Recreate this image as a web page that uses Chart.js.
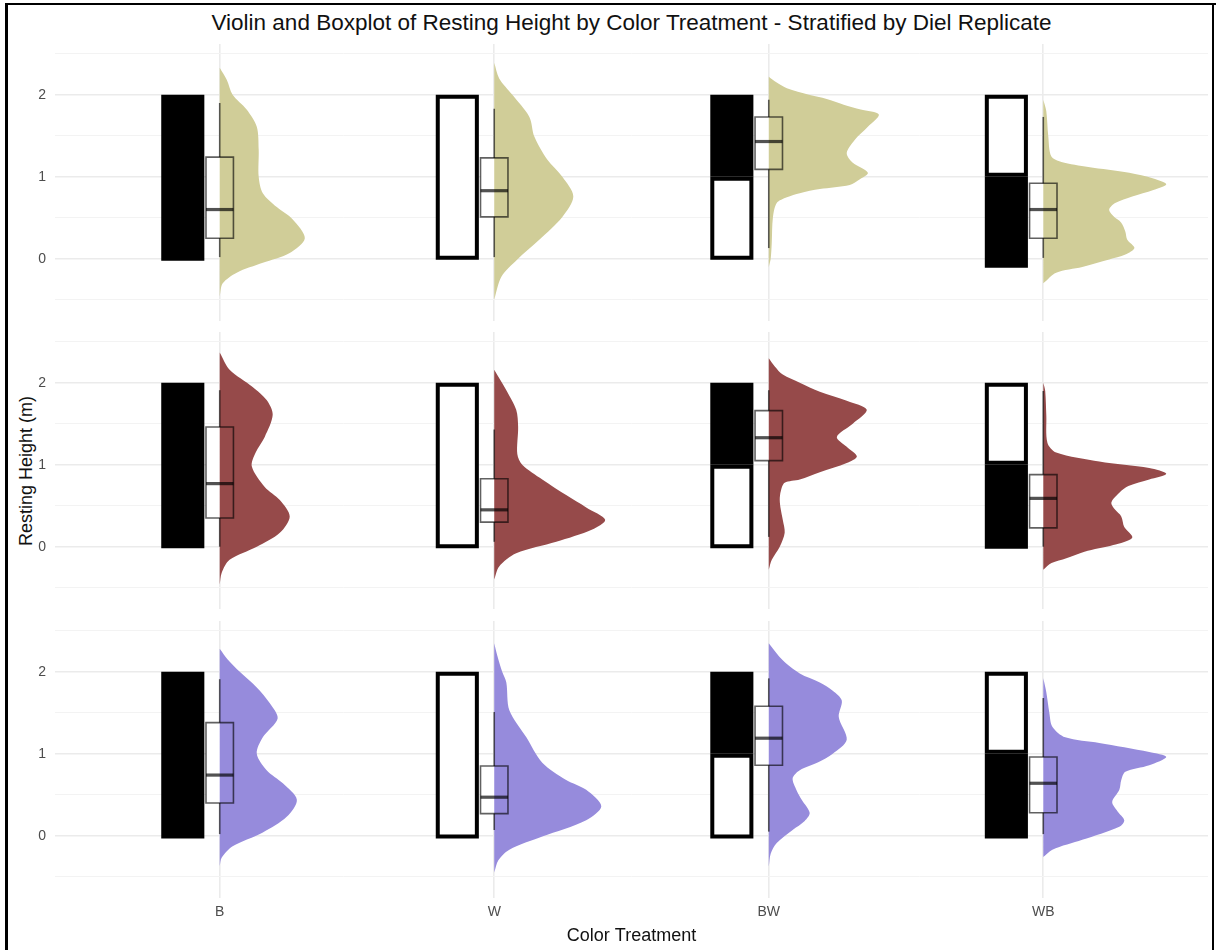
<!DOCTYPE html>
<html>
<head>
<meta charset="utf-8">
<script src="https://cdn.jsdelivr.net/npm/chart.js@4.4.1/dist/chart.umd.min.js"></script>
<style>
  html, body { margin: 0; padding: 0; background: #fff; }
  body { width: 1216px; height: 950px; position: relative; overflow: hidden;
         font-family: "Liberation Sans", Arial, sans-serif; }
  canvas { position: absolute; left: 0; }
  #title { position: absolute; left: 55px; width: 1153px; top: 9px; line-height: 28px;
           text-align: center; font-size: 22.5px; color: #111; white-space: nowrap; }
  #ylab { position: absolute; left: 26px; top: 471px; font-size: 18px; color: #111;
          white-space: nowrap; transform: translate(-50%, -50%) rotate(-90deg); }
  .edge { position: absolute; background: #000; }
</style>
</head>
<body>
<div class="edge" style="left:5px;top:3px;width:3px;height:947px"></div>
<div class="edge" style="left:5px;top:3px;width:1211px;height:2px"></div>
<div class="edge" style="left:1212px;top:3px;width:2px;height:947px"></div>
<div id="title">Violin and Boxplot of Resting Height by Color Treatment - Stratified by Diel Replicate</div>
<div id="ylab">Resting Height (m)</div>
<canvas id="rep1" width="1216" height="277" style="top:44px"></canvas>
<canvas id="rep2" width="1216" height="277" style="top:332px"></canvas>
<canvas id="rep3" width="1216" height="329" style="top:621px"></canvas>
<script>
// ---- data -------------------------------------------------------------
const categories = ['B', 'W', 'BW', 'WB'];
const yTicks = [-0.5, 0, 0.5, 1, 1.5, 2, 2.5];

// Tank wall colouring of each treatment: lower half / upper half
const wallLower = ['black', 'white', 'white', 'black'];
const wallUpper = ['black', 'white', 'black', 'white'];
const wallMid = 1;   // m
const wallTop = 2;   // m
// lower edge of the wall block, per replicate and treatment (m)
const wallBase1 = [-0.025, -0.012, -0.012, -0.11];
const wallBase2 = [-0.02, -0.02, -0.02, -0.025];
const wallBase3 = [-0.033, -0.033, -0.033, -0.033];

// Box statistics [lower whisker, Q1, median, Q3, upper whisker] per treatment
const box1 = [[0.02, 0.25, 0.60, 1.24, 1.90], [0.02, 0.51, 0.83, 1.23, 1.83],
              [0.13, 1.09, 1.43, 1.73, 1.94], [0.01, 0.25, 0.60, 0.92, 1.73]];
const box2 = [[0.00, 0.35, 0.77, 1.46, 1.91], [0.06, 0.30, 0.45, 0.83, 1.43],
              [0.12, 1.05, 1.33, 1.66, 1.91], [0.00, 0.23, 0.59, 0.88, 1.90]];
const box3 = [[0.02, 0.40, 0.74, 1.38, 1.91], [0.07, 0.27, 0.47, 0.85, 1.51],
              [0.05, 0.86, 1.19, 1.58, 1.92], [0.02, 0.28, 0.64, 0.96, 1.68]];

// Half-violin density outlines: [resting height (m), half-width in category units]
const v1B = [[2.33,0],[2.18,0.026],[2.0,0.047],[1.82,0.098],[1.61,0.135],[1.33,0.142],[1.0,0.142],[0.8,0.157],[0.63,0.208],[0.48,0.266],[0.25,0.31],[0.07,0.255],[-0.05,0.157],[-0.17,0.062],[-0.3,0.011],[-0.46,0]];
const v1W = [[2.39,0],[2.2,0.018],[2.0,0.066],[1.73,0.128],[1.49,0.146],[1.21,0.193],[1.0,0.248],[0.76,0.288],[0.51,0.248],[0.23,0.164],[-0.01,0.084],[-0.22,0.026],[-0.5,0]];
const v1BW = [[2.22,0],[2.15,0.029],[2.08,0.066],[2.0,0.146],[1.95,0.211],[1.88,0.273],[1.82,0.335],[1.76,0.401],[1.61,0.361],[1.45,0.313],[1.29,0.284],[1.17,0.306],[1.05,0.361],[0.97,0.332],[0.9,0.295],[0.85,0.186],[0.8,0.113],[0.75,0.066],[0.68,0.029],[0.5,0.015],[0.2,0.011],[0.0,0.007],[-0.1,0]];
const v1WB = [[1.94,0],[1.8,0.011],[1.5,0.018],[1.25,0.029],[1.18,0.066],[1.12,0.164],[1.05,0.313],[0.98,0.401],[0.91,0.448],[0.84,0.401],[0.76,0.324],[0.68,0.262],[0.6,0.24],[0.52,0.255],[0.44,0.284],[0.33,0.299],[0.23,0.306],[0.13,0.332],[0.05,0.299],[-0.01,0.24],[-0.1,0.142],[-0.17,0.047],[-0.3,0]];

const v2B = [[2.37,0],[2.16,0.036],[1.95,0.12],[1.79,0.171],[1.61,0.193],[1.34,0.164],[1.15,0.131],[0.98,0.117],[0.73,0.164],[0.57,0.219],[0.37,0.255],[0.17,0.219],[0,0.135],[-0.16,0.036],[-0.32,0.007],[-0.46,0]];
const v2W = [[2.16,0],[1.91,0.044],[1.67,0.08],[1.46,0.087],[1.13,0.084],[1.0,0.102],[0.82,0.175],[0.63,0.262],[0.48,0.335],[0.33,0.404],[0.21,0.357],[0.06,0.226],[-0.08,0.08],[-0.24,0.018],[-0.4,0]];
const v2BW = [[2.3,0],[2.2,0.022],[2.1,0.051],[2.0,0.113],[1.89,0.186],[1.78,0.284],[1.67,0.357],[1.5,0.306],[1.34,0.248],[1.22,0.284],[1.1,0.321],[1.02,0.284],[0.91,0.186],[0.82,0.113],[0.78,0.058],[0.68,0.044],[0.57,0.04],[0.45,0.044],[0.33,0.051],[0.17,0.058],[0,0.04],[-0.16,0.011],[-0.28,0]];
const v2WB = [[2.0,0],[1.9,0.007],[1.6,0.011],[1.27,0.015],[1.15,0.047],[1.04,0.204],[0.96,0.386],[0.89,0.448],[0.82,0.386],[0.74,0.31],[0.66,0.277],[0.54,0.248],[0.45,0.262],[0.37,0.284],[0.24,0.295],[0.11,0.324],[0.02,0.255],[-0.06,0.15],[-0.14,0.084],[-0.2,0.03],[-0.28,0]];

const v3B = [[2.28,0],[2.15,0.029],[2.0,0.073],[1.81,0.135],[1.62,0.182],[1.43,0.211],[1.2,0.157],[1.0,0.135],[0.8,0.171],[0.64,0.23],[0.44,0.281],[0.23,0.244],[0.04,0.157],[-0.13,0.047],[-0.27,0.007],[-0.37,0]];
const v3W = [[2.35,0],[2.2,0.011],[2.0,0.029],[1.87,0.044],[1.53,0.055],[1.2,0.117],[0.89,0.175],[0.68,0.262],[0.56,0.335],[0.36,0.39],[0.19,0.335],[-0.01,0.175],[-0.17,0.055],[-0.3,0.015],[-0.45,0]];
const v3BW = [[2.35,0],[2.14,0.051],[1.98,0.113],[1.87,0.186],[1.77,0.233],[1.65,0.266],[1.45,0.255],[1.17,0.284],[1.0,0.233],[0.9,0.182],[0.8,0.113],[0.7,0.087],[0.55,0.102],[0.44,0.12],[0.28,0.149],[0.18,0.131],[0.07,0.087],[-0.09,0.029],[-0.22,0.007],[-0.38,0]];
const v3WB = [[1.92,0],[1.75,0.011],[1.5,0.022],[1.33,0.033],[1.2,0.08],[1.13,0.204],[1.02,0.386],[0.96,0.448],[0.86,0.386],[0.78,0.299],[0.68,0.284],[0.56,0.277],[0.41,0.251],[0.3,0.27],[0.19,0.295],[0.11,0.277],[-0.05,0.142],[-0.17,0.033],[-0.26,0]];

const violinColors = ['rgb(208,205,152)', 'rgb(150,74,74)', 'rgb(150,139,220)'];

// ---- geometry / styling ----------------------------------------------
const WALL_X0 = -0.213, WALL_X1 = -0.056;   // wall block offset from category centre
const OUT_DX = 0.0073, OUT_DY = 0.0244;     // half of the 4px outline in data units
const BOX_HALF = 0.05;
const LINE_CLR = 'rgba(0,0,0,0.62)';
const NONE = 'rgba(0,0,0,0)';

Chart.defaults.font.family = '"Liberation Sans", Arial, sans-serif';

function rect(x0, x1, y0, y1) {
  return [{x: x0, y: y0}, {x: x1, y: y0}, {x: x1, y: y1}, {x: x0, y: y1}, {x: x0, y: y0}];
}

function addWall(ds, c, y0, y1, colour) {
  const x0 = c + WALL_X0, x1 = c + WALL_X1;
  if (colour === 'black') {
    ds.push({ data: rect(x0, x1, y0, y1), fill: 'shape', backgroundColor: '#000',
              borderColor: NONE, borderWidth: 0, tension: 0, order: 50 });
  } else {
    ds.push({ data: rect(x0 + OUT_DX, x1 - OUT_DX, y0 + OUT_DY, y1 - OUT_DY), fill: 'shape',
              backgroundColor: '#fff', borderColor: '#000', borderWidth: 4,
              borderJoinStyle: 'miter', borderCapStyle: 'square', tension: 0, order: 50 });
  }
}

function panelDatasets(violins, boxes, bases, colour) {
  const ds = [];
  categories.forEach((cat, i) => {
    const c = i + 1;
    // wall treatment block
    if (wallLower[i] === wallUpper[i]) {
      addWall(ds, c, bases[i], wallTop, wallLower[i]);
    } else {
      addWall(ds, c, bases[i], wallMid, wallLower[i]);
      addWall(ds, c, wallMid, wallTop, wallUpper[i]);
    }
    const [lo, q1, med, q3, hi] = boxes[i];
    // box body (white, sits under the violin)
    ds.push({ data: rect(c - BOX_HALF, c + BOX_HALF, q1, q3), fill: 'shape', backgroundColor: '#fff',
              borderColor: NONE, borderWidth: 0, tension: 0, order: 40 });
    // half violin
    ds.push({ data: violins[i].map(([h, w]) => ({x: c + w, y: h})), fill: 'shape',
              backgroundColor: colour, borderColor: NONE, borderWidth: 0, tension: 0.3, order: 30 });
    // box outline, median and whiskers
    ds.push({ data: rect(c - BOX_HALF, c + BOX_HALF, q1, q3), fill: false, borderColor: LINE_CLR,
              borderWidth: 1.6, borderJoinStyle: 'miter', borderCapStyle: 'square', tension: 0, order: 20 });
    ds.push({ data: [{x: c - BOX_HALF, y: med}, {x: c + BOX_HALF, y: med}], fill: false,
              borderColor: 'rgba(0,0,0,0.68)', borderWidth: 3.2, tension: 0, order: 19 });
    ds.push({ data: [{x: c, y: lo}, {x: c, y: q1}], fill: false, borderColor: LINE_CLR,
              borderWidth: 1.6, tension: 0, order: 19 });
    ds.push({ data: [{x: c, y: q3}, {x: c, y: hi}], fill: false, borderColor: LINE_CLR,
              borderWidth: 1.6, tension: 0, order: 19 });
  });
  return ds;
}

function makePanel(id, datasets, showX) {
  return new Chart(document.getElementById(id), {
    type: 'line',
    data: { datasets },
    options: {
      responsive: false, animation: false, devicePixelRatio: 1, events: [],
      layout: { autoPadding: false, padding: { left: 0, right: 8, top: 0, bottom: 0 } },
      plugins: { legend: { display: false }, tooltip: { enabled: false }, title: { display: false } },
      elements: { point: { radius: 0 } },
      scales: {
        x: {
          type: 'linear', min: 0.4, max: 4.6,
          afterBuildTicks: s => { s.ticks = [1, 2, 3, 4].map(v => ({ value: v })); },
          grid: { color: '#EBEBEB', lineWidth: 1.6, drawTicks: false },
          border: { display: false },
          ticks: { display: showX, padding: 6, color: '#4D4D4D', font: { size: 14 },
                   callback: v => categories[v - 1] },
          title: { display: showX, text: 'Color Treatment', color: '#111', font: { size: 18 },
                   padding: { top: 0, bottom: 3 } },
          afterFit: s => { s.height = showX ? 52 : 0; s.paddingLeft = 0; s.paddingRight = 0; }
        },
        y: {
          type: 'linear', min: -0.76, max: 2.62,
          afterBuildTicks: s => { s.ticks = yTicks.map(v => ({ value: v })); },
          grid: {
            color: c => Number.isInteger(c.tick.value) ? '#EBEBEB' : '#F3F3F3',
            lineWidth: c => Number.isInteger(c.tick.value) ? 1.6 : 1,
            drawTicks: false
          },
          border: { display: false },
          ticks: { padding: 9, color: '#4D4D4D', font: { size: 14 },
                   callback: v => Number.isInteger(v) ? String(v) : '' },
          afterFit: s => { s.width = 55; s.paddingTop = 0; s.paddingBottom = 0; }
        }
      }
    }
  });
}

makePanel('rep1', panelDatasets([v1B, v1W, v1BW, v1WB], box1, wallBase1, violinColors[0]), false);
makePanel('rep2', panelDatasets([v2B, v2W, v2BW, v2WB], box2, wallBase2, violinColors[1]), false);
makePanel('rep3', panelDatasets([v3B, v3W, v3BW, v3WB], box3, wallBase3, violinColors[2]), true);
</script>
</body>
</html>
